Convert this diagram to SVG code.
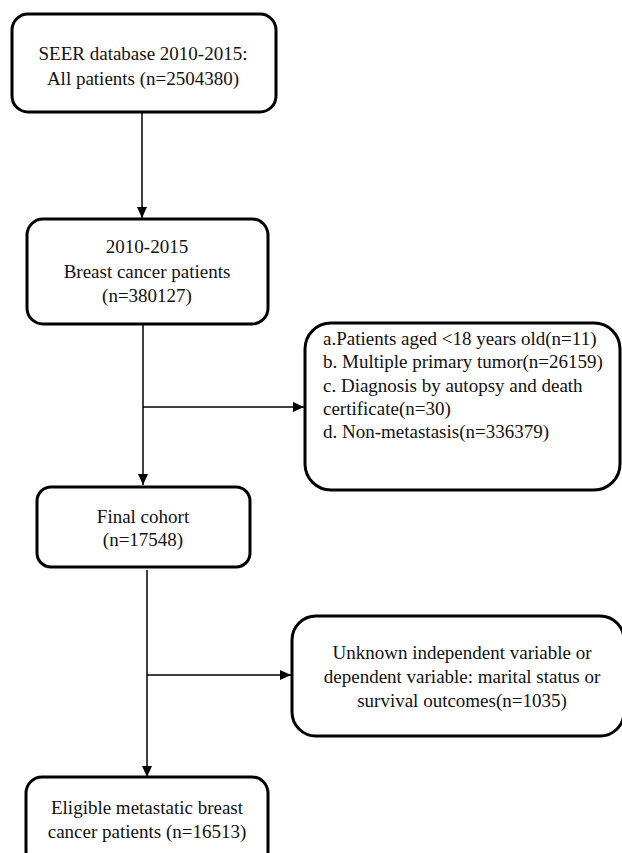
<svg xmlns="http://www.w3.org/2000/svg" width="622" height="853" viewBox="0 0 622 853">
<style>
.box{fill:#fff;stroke:#000;stroke-width:3}
.ln{stroke:#000;stroke-width:1.5;fill:none}
</style>
<defs>
<marker id="ah" markerUnits="userSpaceOnUse" markerWidth="12" markerHeight="10" refX="11" refY="5" orient="auto">
<path d="M0,0 L11,5 L0,10 Z" fill="#000"/>
</marker>
</defs>
<rect width="622" height="853" fill="#fff"/>
<g id="connectors">
<line class="ln" x1="142" y1="112" x2="142" y2="218" marker-end="url(#ah)"/>
<line class="ln" x1="143" y1="325" x2="143" y2="485" marker-end="url(#ah)"/>
<line class="ln" x1="143" y1="407" x2="304" y2="407" marker-end="url(#ah)"/>
<line class="ln" x1="147" y1="570" x2="147" y2="777" marker-end="url(#ah)"/>
<line class="ln" x1="147" y1="675" x2="291" y2="675" marker-end="url(#ah)"/>
</g>
<g font-family="Liberation Serif, DejaVu Serif, serif" font-size="19" fill="#111">
<g id="n1" text-anchor="middle">
<rect class="box" x="12" y="14" width="264" height="98" rx="16"/>
<text x="143" y="60">SEER database 2010-2015:</text>
<text x="143" y="85">All patients (n=2504380)</text>
</g>
<g id="n2" text-anchor="middle">
<rect class="box" x="27" y="219" width="241" height="105" rx="16"/>
<text x="147" y="253">2010-2015</text>
<text x="147" y="278">Breast cancer patients</text>
<text x="147" y="302">(n=380127)</text>
</g>
<g id="n3">
<rect class="box" x="305" y="323" width="315" height="167" rx="26"/>
<text x="323" y="345">a.Patients aged &lt;18 years old(n=11)</text>
<text x="323" y="368">b. Multiple primary tumor(n=26159)</text>
<text x="323" y="392">c. Diagnosis by autopsy and death</text>
<text x="323" y="415">certificate(n=30)</text>
<text x="323" y="438">d. Non-metastasis(n=336379)</text>
</g>
<g id="n4" text-anchor="middle">
<rect class="box" x="37" y="487" width="213" height="80" rx="14"/>
<text x="143" y="523">Final cohort</text>
<text x="143" y="546">(n=17548)</text>
</g>
<g id="n5" text-anchor="middle">
<rect class="box" x="292" y="616" width="332" height="120" rx="24"/>
<text x="462" y="659">Unknown independent variable or</text>
<text x="462" y="683">dependent variable: marital status or</text>
<text x="462" y="707">survival outcomes(n=1035)</text>
</g>
<g id="n6" text-anchor="middle">
<rect class="box" x="26" y="777" width="242" height="90" rx="16"/>
<text x="147" y="814">Eligible metastatic breast</text>
<text x="147" y="838">cancer patients (n=16513)</text>
</g>
</g>
</svg>
